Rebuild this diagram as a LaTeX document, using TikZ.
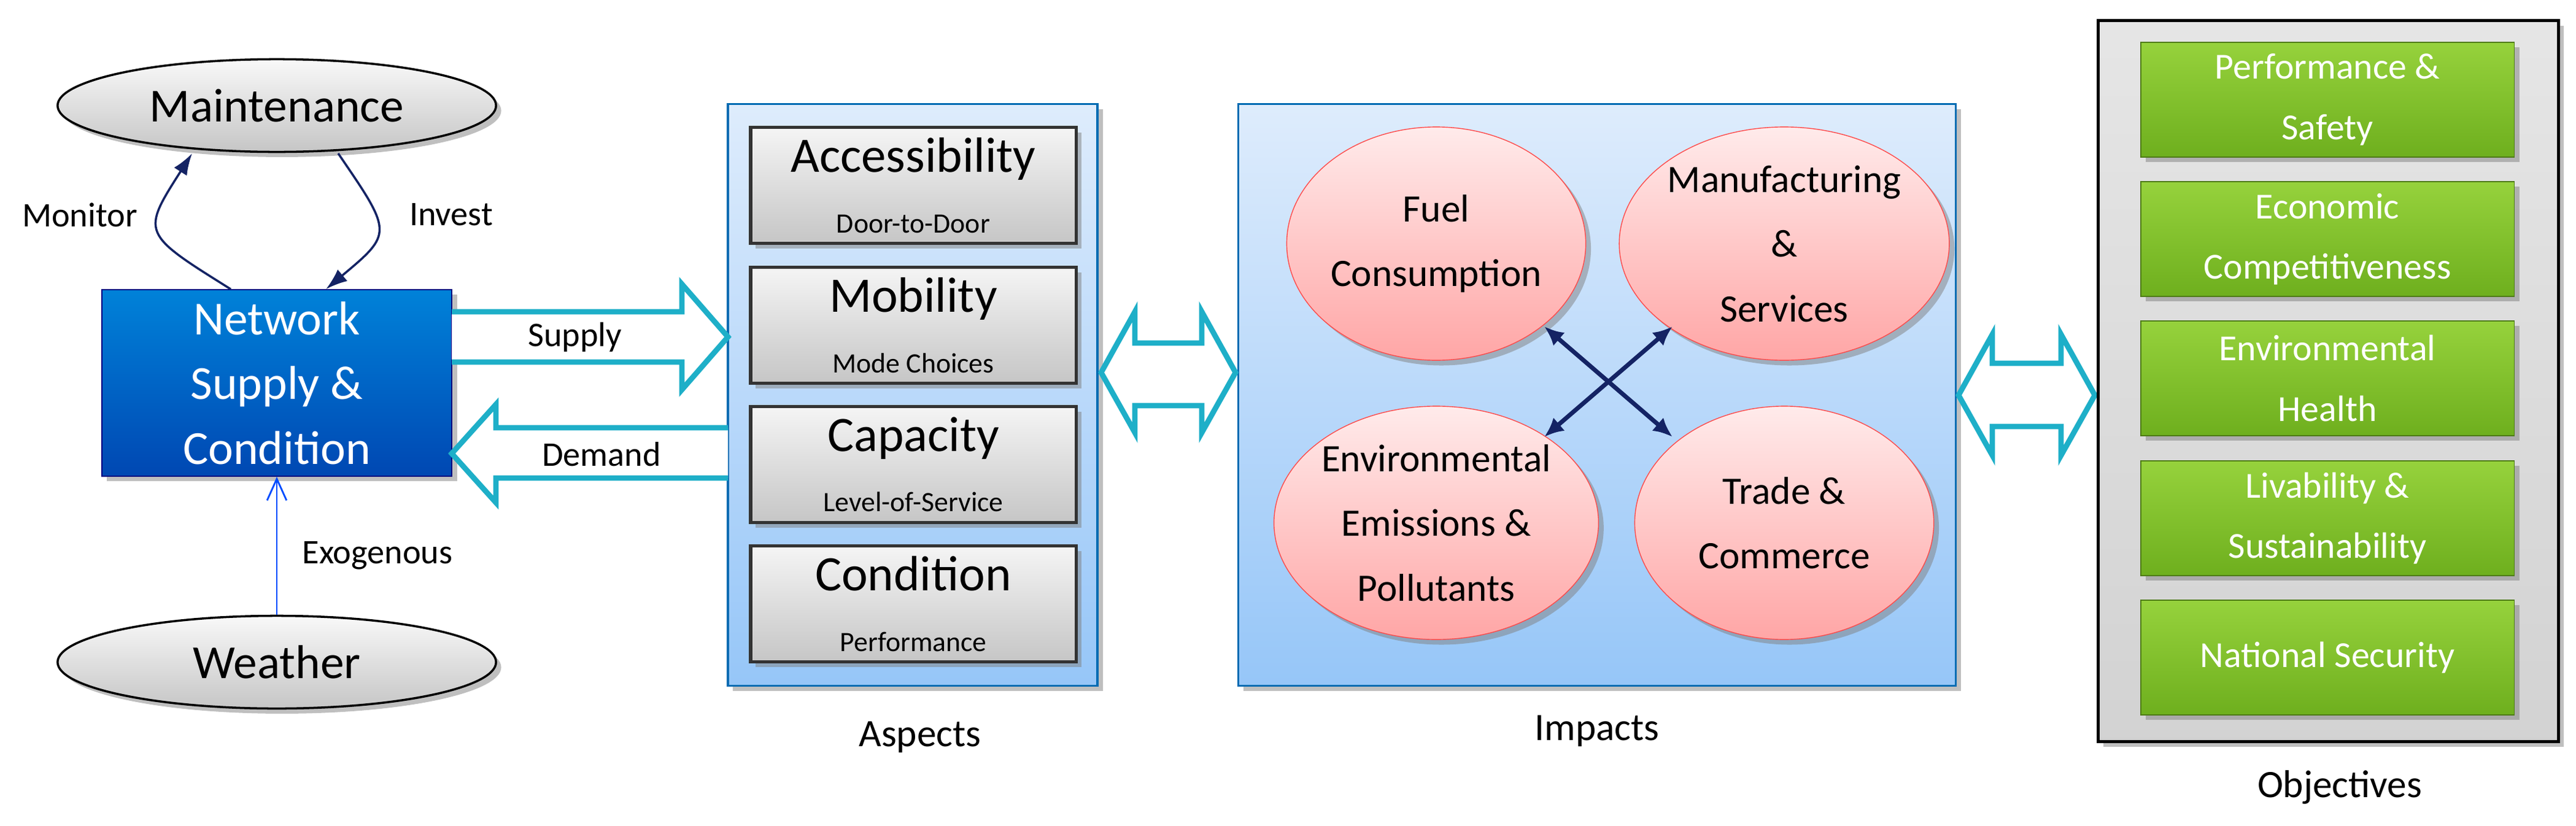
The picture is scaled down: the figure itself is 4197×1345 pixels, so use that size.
\documentclass[tikz,border=0pt]{standalone}
\usepackage{fontspec}
\setmainfont{Carlito}
\usetikzlibrary{arrows.meta,shapes.geometric,shapes.arrows,shadows}
\definecolor{navy}{RGB}{20,35,100}
\definecolor{cyanA}{RGB}{30,175,200}
\definecolor{pTop}{RGB}{222,236,252}
\definecolor{pBot}{RGB}{150,198,248}
\definecolor{gTop}{RGB}{150,210,60}
\definecolor{gBot}{RGB}{110,175,30}
\begin{document}
\begin{tikzpicture}[x=0.01cm,y=-0.01cm,
  oval/.style={ellipse,draw=black,line width=1pt,top color=white!95!gray,bottom color=gray!45,drop shadow,minimum width=7.14cm,minimum height=1.51cm,inner sep=0pt,font=\fontsize{22}{26}\selectfont},
  asp/.style={draw=black!80,line width=1.5pt,top color=gray!8,bottom color=gray!45,drop shadow,minimum width=5.3cm,minimum height=1.89cm,inner sep=0pt,align=center,font=\fontsize{23}{26}\selectfont},
  imp/.style={ellipse,draw=red!70,top color=red!8,bottom color=red!35,drop shadow,minimum width=4.87cm,minimum height=3.8cm,inner sep=0pt,align=center,font=\fontsize{18}{30}\selectfont},
  obj/.style={draw=gBot!70!black,top color=gTop,bottom color=gBot,drop shadow,minimum width=6.08cm,minimum height=1.87cm,inner sep=0pt,align=center,text=white,font=\fontsize{17}{28}\selectfont},
  lab/.style={font=\fontsize{16}{20}\selectfont},
  ttl/.style={font=\fontsize{18}{22}\selectfont},
  pan/.style={draw=blue!40!cyan!70!black,line width=1pt,top color=pTop,bottom color=pBot,drop shadow,inner sep=0pt},
  blk/.style={draw=cyanA,line width=2.5pt,fill=white},
  nav/.style={draw=navy,line width=1pt}]
\useasboundingbox (0,0) rectangle (4197,1345);
% left part
\node[oval] (mai) at (451,172) {Maintenance};
\node[oval] (wea) at (451,1079) {Weather};
\node[draw=blue!50!black,top color=blue!40!cyan!85!black,bottom color=blue!60!cyan!70!black,drop shadow,minimum width=5.7cm,minimum height=3.04cm,inner sep=0pt,align=center,text=white,font=\fontsize{22}{30}\selectfont] (net) at (451,624) {Network\\Supply \&\\Condition};
\draw[nav,-{Latex[length=10pt,width=7pt]}] ([xshift=-0.75cm]net.north) .. controls (230,380) .. (313,250);
\draw[nav,-{Latex[length=10pt,width=7pt]}] (551,250) .. controls (640,380) .. ([xshift=0.8cm]net.north);
\node[lab] (mon) at (130,350) {Monitor};
\node[lab] (inv) at (735,350) {Invest};
\draw[draw=blue!70!cyan,line width=0.8pt,-{Straight Barb[length=10pt,width=9pt]}] (wea.north) -- (net.south);
\node[lab] (exo) at (615,905) {Exogenous};
% aspects
\node[pan,minimum width=6.02cm,minimum height=9.47cm] (asp) at (1487,643.5) {};
\node[ttl] (aspl) at (1499,1201) {Aspects};
\node[asp] (a1) at (1488,302) {Accessibility\\[2pt]{\fontsize{13}{15}\selectfont Door-to-Door}};
\node[asp] (a2) at (1488,530) {Mobility\\[2pt]{\fontsize{13}{15}\selectfont Mode Choices}};
\node[asp] (a3) at (1488,757) {Capacity\\[2pt]{\fontsize{13}{15}\selectfont Level-of-Service}};
\node[asp] (a4) at (1488,984) {Condition\\[2pt]{\fontsize{13}{15}\selectfont Performance}};
% supply/demand block arrows
\draw[blk] (736,508) -- (1111,508) -- (1111,463) -- (1186,549) -- (1111,635) -- (1111,590) -- (736,590);
\node[lab] (sup) at (937,549) {Supply};
\draw[blk] (1186,697) -- (808,697) -- (808,659) -- (736,739) -- (808,819) -- (808,779) -- (1186,779);
\node[lab] (dem) at (980,740) {Demand};
% impacts
\node[pan,minimum width=11.68cm,minimum height=9.47cm] (imp) at (2602,643.5) {};
\node[ttl] (impl) at (2602,1191) {Impacts};
\node[imp] (fuel) at (2340,397) {Fuel\\Consumption};
\node[imp] (man) at (2907,397) {Manufacturing\\\&\\Services};
\node[imp] (env) at (2340,852) {Environmental\\Emissions \&\\Pollutants};
\node[imp] (tra) at (2907,852) {Trade \&\\Commerce};
\draw[draw=navy,line width=2pt,{Latex[length=9pt,width=8pt]}-{Latex[length=9pt,width=8pt]}] (2516,532) -- (2725,712);
\draw[draw=navy,line width=2pt,{Latex[length=9pt,width=8pt]}-{Latex[length=9pt,width=8pt]}] (2725,532) -- (2516,712);
% double arrows
\draw[blk] (1794,607) -- (1849,508) -- (1849,559) -- (1958,559) -- (1958,508) -- (2013,607) -- (1958,705) -- (1958,661) -- (1849,661) -- (1849,705) -- cycle;
\draw[blk] (3191,644) -- (3246,545) -- (3246,592) -- (3358,592) -- (3358,545) -- (3413,644) -- (3358,742) -- (3358,695) -- (3246,695) -- (3246,742) -- cycle;
% objectives
\node[draw=black,line width=1.5pt,top color=gray!20,bottom color=gray!35,drop shadow,minimum width=7.49cm,minimum height=11.74cm,inner sep=0pt] (obj) at (3793.5,621) {};
\node[ttl] (objl) at (3812,1283) {Objectives};
\node[obj] (o1) at (3792,162.5) {Performance \&\\Safety};
\node[obj] (o2) at (3792,389.5) {Economic\\Competitiveness};
\node[obj] (o3) at (3792,616.5) {Environmental\\Health};
\node[obj] (o4) at (3792,844.5) {Livability \&\\Sustainability};
\node[obj] (o5) at (3792,1071.5) {National Security};
\end{tikzpicture}
\end{document}
